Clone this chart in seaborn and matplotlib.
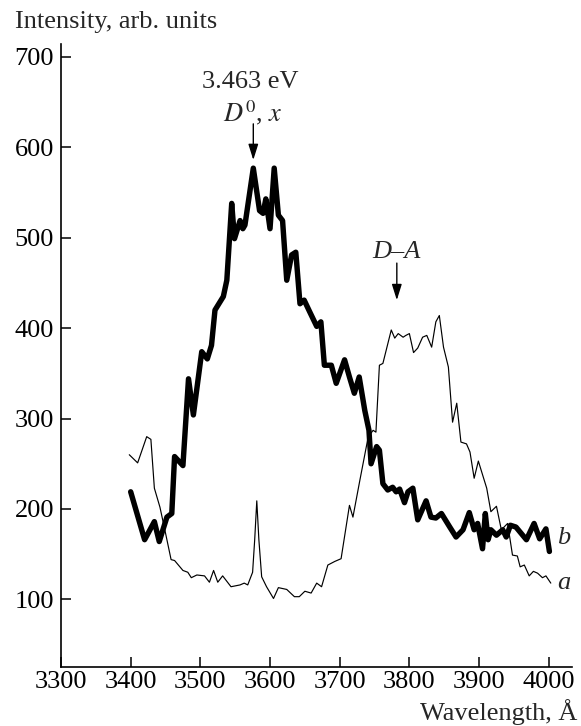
import numpy as np
import pandas as pd
import matplotlib
matplotlib.use("Agg")
import matplotlib.pyplot as plt
import seaborn as sns

# Photoluminescence spectra: curve a (thin) and curve b (thick)
wl_b = [3400, 3420, 3434, 3441, 3452, 3459, 3463, 3475, 3483, 3490, 3502, 3510,
        3516, 3521, 3533, 3538, 3545, 3549, 3557, 3561, 3564, 3576, 3585, 3590,
        3594, 3600, 3606, 3612, 3618, 3624, 3631, 3637, 3643, 3649, 3657, 3667,
        3673, 3678, 3688, 3695, 3707, 3714, 3721, 3728, 3736, 3742, 3745, 3753,
        3757, 3762, 3769, 3776, 3781, 3786, 3793, 3798, 3805, 3812, 3824, 3831,
        3838, 3846, 3858, 3867, 3877, 3886, 3893, 3898, 3905, 3909, 3913, 3917,
        3925, 3934, 3939, 3945, 3953, 3968, 3979, 3987, 3996, 4001]
int_b = [219, 166, 186, 164, 191, 195, 258, 248, 344, 304, 374, 366,
         381, 420, 435, 453, 538, 499, 519, 510, 514, 577, 530, 527,
         543, 510, 577, 525, 519, 453, 481, 484, 427, 431, 418, 402,
         407, 359, 359, 339, 365, 346, 328, 346, 309, 287, 250, 269,
         265, 228, 221, 224, 219, 222, 207, 219, 223, 188, 209, 191,
         190, 195, 180, 169, 177, 196, 177, 184, 156, 195, 166, 177,
         171, 177, 169, 182, 180, 166, 184, 167, 178, 153]

wl_a = [3398, 3410, 3423, 3429, 3434, 3442, 3449, 3458, 3463, 3475, 3482, 3487,
        3495, 3506, 3513, 3519, 3525, 3532, 3544, 3557, 3563, 3568, 3575, 3578,
        3581, 3584, 3588, 3595, 3605, 3612, 3624, 3635, 3642, 3650, 3659, 3667,
        3674, 3683, 3693, 3702, 3714, 3719, 3729, 3741, 3748, 3752, 3757, 3762,
        3774, 3779, 3784, 3791, 3795, 3800, 3806, 3812, 3819, 3825, 3832, 3838,
        3843, 3849, 3856, 3862, 3868, 3874, 3882, 3887, 3893, 3899, 3911, 3917,
        3925, 3932, 3941, 3948, 3955, 3959, 3965, 3972, 3978, 3984, 3991, 3996,
        4003]
int_a = [260, 251, 280, 277, 223, 202, 177, 144, 143, 132, 130, 124,
         127, 126, 119, 132, 119, 126, 114, 116, 118, 116, 130, 166,
         209, 166, 125, 114, 101, 113, 111, 103, 103, 109, 107, 118,
         114, 138, 142, 145, 204, 191, 232, 280, 287, 285, 359, 361,
         398, 389, 394, 390, 392, 394, 373, 378, 390, 392, 379, 407,
         414, 379, 357, 296, 317, 274, 272, 263, 234, 253, 223, 197,
         203, 177, 184, 149, 148, 136, 138, 126, 131, 129, 124, 126,
         118]

x_ticks = [3300, 3400, 3500, 3600, 3700, 3800, 3900, 4000]
y_ticks = [100, 200, 300, 400, 500, 600, 700]

sns.set_style("ticks")
plt.rcParams["font.family"] = ["Liberation Serif", "DejaVu Serif"]
plt.rcParams["mathtext.fontset"] = "stix"

df_a = pd.DataFrame({"wl": wl_a, "I": int_a})
df_b = pd.DataFrame({"wl": wl_b, "I": int_b})

fig = plt.figure(figsize=(5.81, 7.26), dpi=100)
ax = fig.add_axes([0.105, 0.081, 0.879, 0.858])

sns.lineplot(data=df_a, x="wl", y="I", ax=ax, color="black", linewidth=0.85,
             estimator=None, sort=False)
sns.lineplot(data=df_b, x="wl", y="I", ax=ax, color="black", linewidth=3.9,
             estimator=None, sort=False)

ax.set_xlim(3300, 4033)
ax.set_ylim(25, 714)
ax.set_xticks(x_ticks)
ax.set_yticks(y_ticks)
ax.set_xlabel("")
ax.set_ylabel("")
fs = 19
ax.tick_params(direction="in", length=7, width=1.1, labelsize=fs, colors="black")
ax.tick_params(axis="x", pad=3)
ax.tick_params(axis="y", pad=5)
for side in ("top", "right"):
    ax.spines[side].set_visible(False)
for side in ("left", "bottom"):
    ax.spines[side].set_linewidth(1.2)
    ax.spines[side].set_color("black")

fig.text(0.026, 0.97, "Intensity, arb. units", fontsize=fs, ha="left", va="center")
fig.text(0.993, 0.008, "Wavelength, Å", fontsize=fs, ha="right", va="baseline")

# Peak annotations
arrow = dict(arrowstyle="-|>,head_length=0.8,head_width=0.25", color="black",
             lw=1.0, mutation_scale=12, shrinkA=0, shrinkB=0)
ax.annotate("", xy=(3576, 586), xytext=(3576, 626), arrowprops=arrow)
ax.text(3571, 672, "3.463 eV", fontsize=fs, ha="center", va="center")
ax.text(3576, 638, r"$D^{\mathrm{0}}$, $x$", fontsize=fs, ha="center", va="center")

ax.annotate("", xy=(3782, 431), xytext=(3782, 472), arrowprops=arrow)
ax.text(3782, 484, "D–A", fontsize=fs, ha="center", va="center", style="italic")

ax.text(4022, 168, "b", fontsize=fs, ha="center", va="center", style="italic")
ax.text(4022, 118, "a", fontsize=fs, ha="center", va="center", style="italic")

fig.savefig("out.png", dpi=100)
